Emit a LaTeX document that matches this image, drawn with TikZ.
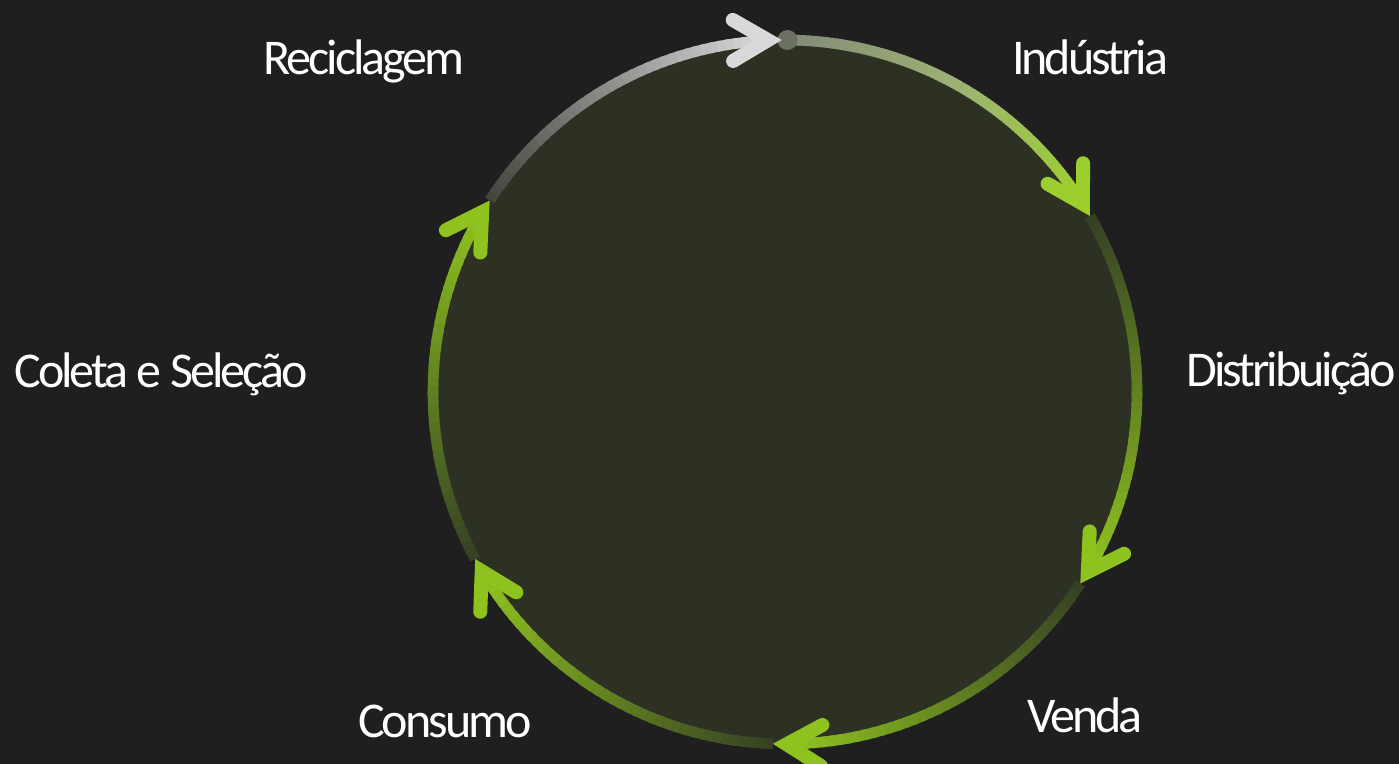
\documentclass[tikz,border=0pt]{standalone}
\usepackage{fontspec}
\setmainfont{Carlito}[LetterSpace=-6]
\usetikzlibrary{calc}
\definecolor{bg}{HTML}{1F1F1F}
\definecolor{disc}{HTML}{2D3123}
\definecolor{lime}{HTML}{8EC21F}
\definecolor{limeb}{HTML}{9CCF2E}
\definecolor{darkg}{HTML}{364224}
\definecolor{grayst}{HTML}{838A76}
\definecolor{graymid}{HTML}{9DB474}
\definecolor{dimg}{HTML}{45463F}
\definecolor{lightg}{HTML}{D9D9D9}
\definecolor{dotg}{HTML}{6C7064}
\newcommand\gradarc[4]{%
  \foreach \i in {0,...,39}{%
    \pgfmathsetmacro\sa{#1+(#2-#1)*\i/40}%
    \pgfmathsetmacro\ea{#1+(#2-#1)*min(\i+1.5,40)/40}%
    \pgfmathtruncatemacro\p{100*\i/39}%
    \draw[arcline, draw={#4!\p!#3}] ($(C)+(\sa:176pt)$) arc[start angle=\sa, end angle=\ea, radius=176pt];
  }}
\newcommand\chev[2]{%
  \pgfmathsetmacro\bk{#1+90}%
  \begin{scope}[shift={($(C)+(#1:176pt)$)}, rotate=\bk]
    \draw[chevline, draw=#2] (49,20.5) -- (14,0) -- (49,-20.5);
  \end{scope}}
\begin{document}
\begin{tikzpicture}[x=0.5pt,y=0.5pt,
  arcline/.style={line width=5.3pt, line cap=butt},
  chevline/.style={line width=7pt, line cap=round, line join=miter},
  lbl/.style={text=white, inner sep=0pt, anchor=base, font=\fontsize{25}{30}\selectfont}]
\useasboundingbox (0,0) rectangle (1399,764);
\fill[bg] (0,0) rectangle (1399,764);
\coordinate (C) at (785,372);
\fill[disc] (C) circle[radius=176pt];
% segments (clockwise)
\gradarc{90}{60}{grayst}{graymid}
\gradarc{60}{33}{graymid}{limeb}
\gradarc{30}{-30}{darkg}{lime}
\gradarc{-33}{-89}{darkg}{lime}
\gradarc{-92}{-148.5}{darkg}{lime}
\gradarc{-151.7}{-210}{darkg}{lime}
\gradarc{147}{93}{dimg}{lightg}
% dot
\fill[dotg] ($(C)+(89.6:176pt)$) circle[radius=5pt];
% arrowheads
\chev{30}{limeb}
\chev{-33}{lime}
\chev{-92}{lime}
\chev{-151.7}{lime}
\chev{147}{lime}
\chev{90.5}{lightg}
% labels
\node[lbl] (reciclagem) at (364,689) {Reciclagem};
\node[lbl] (industria) at (1090,689) {Indústria};
\node[lbl] (coleta) at (161,376) {Coleta e Seleção};
\node[lbl] (distribuicao) at (1291,377) {Distribuição};
\node[lbl] (venda) at (1085,31) {Venda};
\node[lbl] (consumo) at (445,26) {Consumo};
\end{tikzpicture}
\end{document}
